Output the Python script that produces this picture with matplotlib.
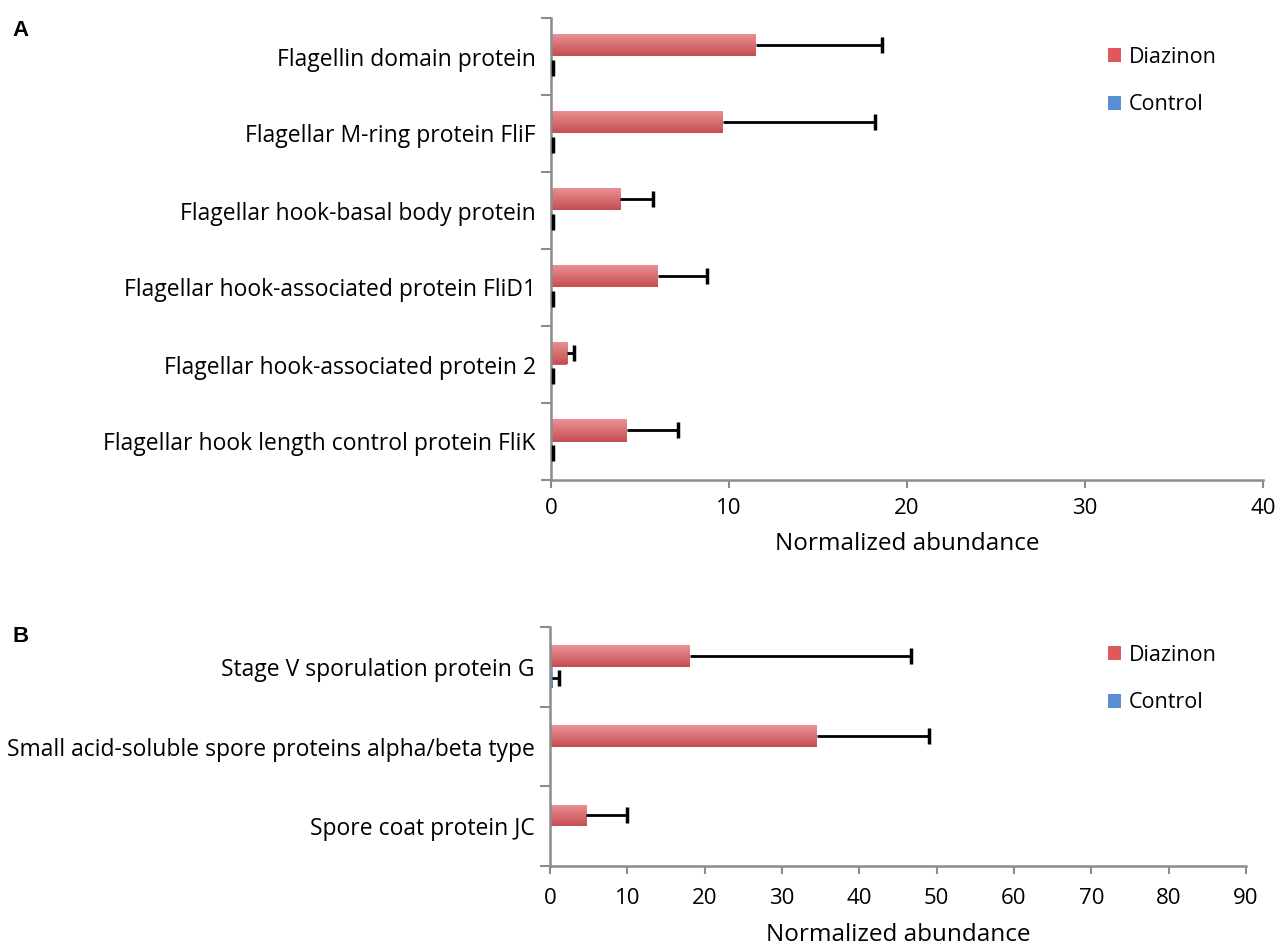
import numpy as np
import matplotlib.pyplot as plt
import matplotlib.colors as mc

# ---------- data ----------
cats_a = [
    "Flagellin domain protein",
    "Flagellar M-ring protein FliF",
    "Flagellar hook-basal body protein",
    "Flagellar hook-associated protein FliD1",
    "Flagellar hook-associated protein 2",
    "Flagellar hook length control protein FliK",
]
diaz_a = [11.5, 9.65, 3.9, 6.0, 0.9, 4.25]
diaz_err_a = [7.1, 8.55, 1.85, 2.75, 0.4, 2.9]
ctrl_a = [0.05, 0.05, 0.05, 0.05, 0.05, 0.05]
ctrl_err_a = [0.05, 0.05, 0.05, 0.05, 0.05, 0.05]

cats_b = [
    "Stage V sporulation protein G",
    "Small acid-soluble spore proteins alpha/beta type",
    "Spore coat protein JC",
]
diaz_b = [18.1, 34.5, 4.7]
diaz_err_b = [28.6, 14.5, 5.3]
ctrl_b = [0.3, 0.0, 0.0]
ctrl_err_b = [0.9, 0.0, 0.0]

RED = "#E0585D"
BLUE = "#5A8ED3"
GRAY = "#8C8C8C"
FONT = "Open Sans"

plt.rcParams["font.family"] = FONT

fig = plt.figure(figsize=(12.79, 9.51), dpi=100)


def shade(ax, bars, color):
    # Excel-like vertical gradient inside each bar
    base = np.array(mc.to_rgb(color))
    light = base + (1 - base) * 0.35
    dark = base * 0.88
    grad = np.linspace(0, 1, 32)[:, None]
    img = light[None, None, :] * (1 - grad[..., None]) + dark[None, None, :] * grad[..., None]
    for b in bars:
        x0, y0 = b.get_x(), b.get_y()
        w, h = b.get_width(), b.get_height()
        if w <= 0:
            continue
        im = ax.imshow(img, extent=(x0, x0 + w, y0 + h, y0), aspect="auto",
                       zorder=b.get_zorder() + 0.1, interpolation="bilinear")
        im.set_clip_path(b)


def plus_err(ax, yy, vals, errs):
    # one-sided error bar: line from bar end plus a cap at the far end only
    for yv, v, e in zip(yy, vals, errs):
        if e <= 0:
            continue
        ax.plot([v, v + e], [yv, yv], color="black", lw=2, zorder=5,
                solid_capstyle="butt")
        ax.plot([v + e], [yv], marker="|", color="black", ms=11, mew=2.5, zorder=5)


def panel(rect, cats, diaz, derr, ctrl, cerr, xmax, xstep, bar_h, tpad, lpad):
    ax = fig.add_axes(rect)
    n = len(cats)
    y = np.arange(n)
    b1 = ax.barh(y - bar_h / 2, diaz, height=bar_h, color=RED, label="Diazinon")
    b2 = ax.barh(y + bar_h / 2, ctrl, height=bar_h, color=BLUE, label="Control")
    plus_err(ax, y - bar_h / 2, diaz, derr)
    plus_err(ax, y + bar_h / 2, ctrl, cerr)
    ax.set_xlim(0, xmax)
    ax.set_ylim(n - 0.5, -0.5)
    ax.set_xticks(np.arange(0, xmax + 1, xstep))
    ax.set_yticks(y)
    ax.set_yticklabels(cats, fontsize=16.5)
    ax.set_yticks(np.arange(n + 1) - 0.5, minor=True)
    ax.tick_params(axis="y", which="major", length=0, pad=11)
    ax.tick_params(axis="y", which="minor", length=7, width=1.5, color=GRAY, direction="out")
    ax.tick_params(axis="x", length=6, width=1.5, color=GRAY, direction="out",
                   labelsize=16, pad=tpad)
    for s in ["top", "right"]:
        ax.spines[s].set_visible(False)
    for s in ["left", "bottom"]:
        ax.spines[s].set_color(GRAY)
        ax.spines[s].set_linewidth(1.8)
    ax.set_xlabel("Normalized abundance", fontsize=17.5, labelpad=lpad)
    shade(ax, b1, RED)
    shade(ax, b2, BLUE)
    return ax


ax_a = panel([551 / 1279, 1 - 480 / 951, 712 / 1279, 462 / 951],
             cats_a, diaz_a, diaz_err_a, ctrl_a, ctrl_err_a, 40, 10, 0.29, 7, 9)
ax_b = panel([550 / 1279, 1 - 866 / 951, 696 / 1279, 239 / 951],
             cats_b, diaz_b, diaz_err_b, ctrl_b, ctrl_err_b, 90, 10, 0.27, 10, 10)

for ax, ymid in [(ax_a, 81), (ax_b, 679)]:
    ax.legend(loc="center left", bbox_to_anchor=(1108 / 1279, 1 - ymid / 951),
              bbox_transform=fig.transFigure, frameon=False, fontsize=15.5,
              handlelength=0.6, handleheight=0.6, handletextpad=0.35,
              labelspacing=1.25, borderpad=0, borderaxespad=0)

fig.text(12 / 1279, 1 - 30 / 951, "A", fontsize=16, fontweight="bold",
         family="Liberation Sans", va="center")
fig.text(12 / 1279, 1 - 637 / 951, "B", fontsize=16, fontweight="bold",
         family="Liberation Sans", va="center")

fig.savefig("out.png", dpi=100)
